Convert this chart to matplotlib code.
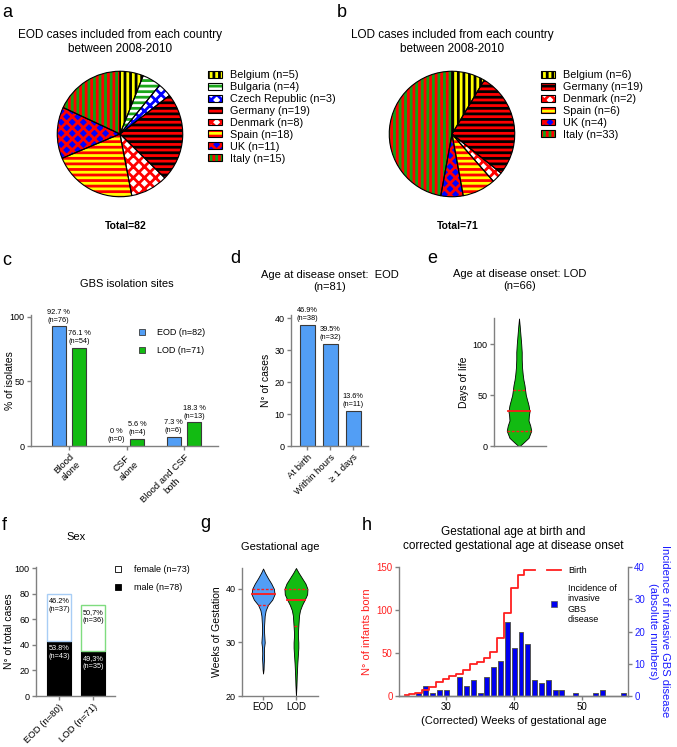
import numpy as np
import matplotlib.pyplot as plt
from matplotlib.patches import Patch
from matplotlib.lines import Line2D

plt.rcParams['font.family'] = ['Liberation Sans', 'DejaVu Sans']
plt.rcParams['hatch.linewidth'] = 2.0

W, H = 677, 747

# ---------------- data ----------------
eod_countries = ['Belgium', 'Bulgaria', 'Czech Republic', 'Germany', 'Denmark', 'Spain', 'UK', 'Italy']
eod_counts = [5, 4, 3, 19, 8, 18, 11, 15]
lod_countries = ['Belgium', 'Germany', 'Denmark', 'Spain', 'UK', 'Italy']
lod_counts = [6, 19, 2, 6, 4, 33]

sites = ['Blood\nalone', 'CSF\nalone', 'Blood and CSF\nboth']
sites_eod = [92.7, 0, 7.3]
sites_lod = [76.1, 5.6, 18.3]
sites_eod_n = [76, 0, 6]
sites_lod_n = [54, 4, 13]

onset = ['At birth', 'Within hours', '≥ 1 days']
onset_n = [38, 32, 11]
onset_pct = ['46.9%', '39.5%', '13.6%']

# LOD age at onset, violin outline (days, relative width)
lod_days = [0, 3, 8, 15, 20, 25, 30, 34, 40, 45, 50, 55, 60, 65, 70, 77, 85, 92, 100, 110, 118, 125]
lod_days_dens = [2, 12, 28, 36, 33, 28, 29, 31, 28, 24, 20, 18, 16, 13, 11, 9, 8, 8, 6.5, 4, 2, 0]
lod_days_stats = [34, 15, 55]  # median, q1, q3

sex_groups = ['EOD (n=80)', 'LOD (n=71)']
male_n = [43, 35]
female_n = [37, 36]
male_lbl = ['53.8%', '49,3%']
female_lbl = ['46.2%', '50,7%']

eod_weeks = [24.2, 25, 26, 27, 28, 29, 30, 31, 32, 33, 34, 35, 36, 37, 38, 39, 40, 41, 42, 43, 43.8]
eod_weeks_dens = [0, 1.5, 2, 3, 2.5, 3, 5, 4, 3, 3, 4, 5, 8, 15, 28, 35, 33, 25, 15, 6, 0]
eod_weeks_stats = [39, 37, 40]
lod_weeks = [20, 22, 24, 26, 28, 29, 30, 31, 32, 33, 34, 35, 36, 37, 38, 39, 40, 41, 42, 43, 43.9]
lod_weeks_dens = [0, 1.5, 2.5, 4, 6, 7, 7, 6, 6, 7, 8, 9, 12, 18, 26, 33, 34, 28, 18, 8, 0]
lod_weeks_stats = [38, 33, 40]

weeks = list(range(24, 57))
incidence = [0, 0, 1, 3, 1, 2, 2, 0, 6, 3, 5, 1, 6, 9, 11, 23, 15, 20, 16, 5, 4, 5,
             2, 2, 0, 1, 0, 0, 1, 2, 0, 0, 1]
birth_weeks = list(range(24, 44))
births = [1, 2, 4, 7, 11, 16, 20, 23, 26, 30, 37, 40, 44, 51, 67, 96, 126, 141, 146, 147]

BLUE = '#529ef5'
GREEN = '#12bb12'
EDGE = '#3a3a3a'
AX = '#808080'

country_style = {
    'Belgium': ('#ffff00', 'black', '|||'),
    'Bulgaria': ('white', '#1aa61a', '---'),
    'Czech Republic': ('white', '#0000ff', 'xxx'),
    'Germany': ('#ff0000', 'black', '---'),
    'Denmark': ('white', '#ff0000', 'xxx'),
    'Spain': ('#ffff00', '#ff0000', '---'),
    'UK': ('#0000ff', '#ff0000', 'xxx'),
    'Italy': ('#13a013', '#ff0000', '|||'),
}

fig = plt.figure(figsize=(W / 100, H / 100), dpi=100)


def fax(x0, y0, x1, y1):
    return fig.add_axes([x0 / W, 1 - y1 / H, (x1 - x0) / W, (y1 - y0) / H])


def ftext(x, y, s, **kw):
    fig.text(x / W, 1 - y / H, s, **kw)


def style(ax, size=6.5):
    for s in ['top', 'right']:
        ax.spines[s].set_visible(False)
    for s in ['left', 'bottom']:
        ax.spines[s].set_color(AX)
        ax.spines[s].set_linewidth(1.0)
    ax.tick_params(color=AX, length=3, width=1, labelsize=size, pad=1.5)


def pie_panel(x0, names, counts, legx, title, total):
    ax = fax(x0, 70, x0 + 128, 198)
    styles = [country_style[n] for n in names]
    wedges, _ = ax.pie(counts, startangle=90, counterclock=False, radius=1,
                       colors=[s[0] for s in styles], wedgeprops=dict(linewidth=0))
    for w, s in zip(wedges, styles):
        w.set_edgecolor(s[1])
        w.set_hatch(s[2])
    ax.pie(counts, startangle=90, counterclock=False, radius=1,
           wedgeprops=dict(fill=False, edgecolor='black', linewidth=0.8))
    ax.set_xlim(-1.02, 1.02)
    ax.set_ylim(-1.02, 1.02)
    handles = [(Patch(facecolor=s[0], edgecolor=s[1], hatch=s[2], lw=0),
                Patch(fill=False, edgecolor='black', lw=0.8)) for s in styles]
    labels = [f'{n} (n={c})' for n, c in zip(names, counts)]
    fig.legend(handles, labels, loc='upper left', bbox_to_anchor=(legx / W, 1 - 70 / H),
               frameon=False, fontsize=7.8, handlelength=1.25, handleheight=0.6,
               handletextpad=0.8, labelspacing=0.18, borderpad=0, borderaxespad=0)
    ftext(x0 + 64, 42, title, ha='center', va='center', fontsize=8.5, linespacing=1.25)
    ftext(x0 + 70, 226, total, ha='center', va='center', fontsize=7.5, weight='bold')


# ---------------- a / b : pies ----------------
pie_panel(56, eod_countries, eod_counts, 208,
          'EOD cases included from each country\nbetween 2008-2010', 'Total=82')
pie_panel(388, lod_countries, lod_counts, 541,
          'LOD cases included from each country\nbetween 2008-2010', 'Total=71')
ftext(2, 17, 'a', fontsize=13)
ftext(337, 17, 'b', fontsize=13)

# ---------------- c : isolation sites ----------------
ax = fax(31, 315, 218, 446)
style(ax)
x = np.arange(len(sites))
ax.bar(x - 0.18, sites_eod, 0.245, color=BLUE, edgecolor=EDGE, lw=0.8)
ax.bar(x + 0.18, sites_lod, 0.245, color=GREEN, edgecolor=EDGE, lw=0.8)
for xi, v, n in zip(x - 0.18, sites_eod, sites_eod_n):
    ax.annotate(f'{v:g} %\n(n={n})', (xi, v), xytext=(0, 2), textcoords='offset points',
                ha='center', va='bottom', fontsize=5.3, linespacing=1.15)
for xi, v, n in zip(x + 0.18, sites_lod, sites_lod_n):
    ax.annotate(f'{v:g} %\n(n={n})', (xi, v), xytext=(0, 2), textcoords='offset points',
                ha='center', va='bottom', fontsize=5.3, linespacing=1.15)
ax.set_xlim(-0.66, 2.59)
ax.set_ylim(0, 101.5)
ax.set_yticks([0, 50, 100])
ax.set_xticks(x)
ax.set_xticklabels(sites, rotation=45, ha='right', rotation_mode='anchor',
                   multialignment='center', fontsize=6.8)
ax.set_ylabel('% of isolates', fontsize=7.5)
ax.yaxis.set_label_coords(-0.088, 0.5)
leg_h = [Line2D([], [], ls='none', marker='s', ms=4.5, mfc=BLUE, mec=EDGE, mew=0.6),
         Line2D([], [], ls='none', marker='s', ms=4.5, mfc=GREEN, mec=EDGE, mew=0.6)]
fig.legend(leg_h, ['EOD (n=82)', 'LOD (n=71)'], loc='upper left',
           bbox_to_anchor=(137 / W, 1 - 328 / H), frameon=False, fontsize=6.5,
           handlelength=1.0, handletextpad=1.2, labelspacing=1.0, borderpad=0, borderaxespad=0)
ftext(2, 265, 'c', fontsize=13)
ftext(127, 284, 'GBS isolation sites', ha='center', va='center', fontsize=8)

# ---------------- d : age at onset EOD ----------------
ax = fax(291, 315, 368, 446)
style(ax)
x = np.arange(len(onset))
ax.bar(x, onset_n, 0.65, color=BLUE, edgecolor=EDGE, lw=0.8)
for xi, v, p in zip(x, onset_n, onset_pct):
    ax.annotate(f'{p}\n(n={v})', (xi, v), xytext=(0, 2), textcoords='offset points',
                ha='center', va='bottom', fontsize=5.3, linespacing=1.15)
ax.set_xlim(-0.7, 2.65)
ax.set_ylim(0, 41)
ax.set_yticks([0, 10, 20, 30, 40])
ax.set_xticks(x)
ax.set_xticklabels(onset, rotation=45, ha='right', rotation_mode='anchor', fontsize=6.8)
ax.set_ylabel('N° of cases', fontsize=7.5, labelpad=3)
ftext(230, 263, 'd', fontsize=13)
ftext(330, 281, 'Age at disease onset:  EOD\n(n=81)', ha='center', va='center',
      fontsize=8, linespacing=1.2)


# ---------------- violins ----------------
def violin(ax, pos, levels, dens, maxw, fc, stats):
    levels = np.array(levels, float)
    hw = np.array(dens, float) / max(dens) * maxw
    ax.fill_betweenx(levels, pos - hw, pos + hw, facecolor=fc, edgecolor='black', lw=0.6)
    for val, ls in zip(stats, ['-', (0, (2, 1.2)), (0, (2, 1.2))]):
        w = np.interp(val, levels, hw)
        ax.plot([pos - w, pos + w], [val, val], color='#ff1a1a', ls=ls,
                lw=1.3 if ls == '-' else 1.0)


# ---------------- e : age at onset LOD ----------------
ax = fax(494, 318, 546, 446)
style(ax)
violin(ax, 0, lod_days, lod_days_dens, 0.245, GREEN, lod_days_stats)
ax.set_xlim(-0.5, 0.54)
ax.set_ylim(0, 125.5)
ax.set_yticks([0, 50, 100])
ax.set_xticks([])
ax.set_ylabel('Days of life', fontsize=7.5, labelpad=3)
ftext(427, 263, 'e', fontsize=13)
ftext(520, 280, 'Age at disease onset: LOD\n(n=66)', ha='center', va='center',
      fontsize=8, linespacing=1.2)

# ---------------- f : sex ----------------
ax = fax(36, 567, 115, 696)
style(ax)
x = np.arange(len(sex_groups))
ax.bar(x, male_n, 0.7, color='black', edgecolor='black', lw=0.8)
ax.bar(x, female_n, 0.7, bottom=male_n, color='white', edgecolor=['#a8cdf5', '#7fdc7f'], lw=1.0)
for xi, m, f, ml, fl in zip(x, male_n, female_n, male_lbl, female_lbl):
    ax.annotate(f'{fl}\n(n={f})', (xi, m + f), xytext=(0, -3), textcoords='offset points',
                ha='center', va='top', fontsize=5.3, linespacing=1.15)
    ax.annotate(f'{ml}\n(n={m})', (xi, m), xytext=(0, -3), textcoords='offset points',
                ha='center', va='top', fontsize=5.3, linespacing=1.15, color='white')
ax.set_xlim(-0.68, 1.65)
ax.set_ylim(0, 101)
ax.set_yticks([0, 20, 40, 60, 80, 100])
ax.set_xticks(x)
ax.set_xticklabels(sex_groups, rotation=45, ha='right', rotation_mode='anchor', fontsize=6.8)
ax.set_ylabel('N° of total cases', fontsize=7.5)
ax.yaxis.set_label_coords(-0.28, 0.5)
leg_h = [Line2D([], [], ls='none', marker='s', ms=4.5, mfc='white', mec='black', mew=0.6),
         Line2D([], [], ls='none', marker='s', ms=4.5, mfc='black', mec='black', mew=0.6)]
fig.legend(leg_h, ['female (n=73)', 'male (n=78)'], loc='upper left',
           bbox_to_anchor=(113 / W, 1 - 565 / H), frameon=False, fontsize=6.5,
           handlelength=1.0, handletextpad=1.3, labelspacing=1.0, borderpad=0, borderaxespad=0)
ftext(2, 530, 'f', fontsize=13)
ftext(76, 537, 'Sex', ha='center', va='center', fontsize=8)

# ---------------- g : gestational age ----------------
ax = fax(242, 568, 318, 696)
style(ax)
violin(ax, 0, eod_weeks, eod_weeks_dens, 0.35, BLUE, eod_weeks_stats)
violin(ax, 1, lod_weeks, lod_weeks_dens, 0.35, GREEN, lod_weeks_stats)
ax.set_xlim(-0.64, 1.67)
ax.set_ylim(20, 43.9)
ax.set_yticks([20, 30, 40])
ax.set_xticks([0, 1])
ax.set_xticklabels(['EOD', 'LOD'], fontsize=7)
ax.set_ylabel('Weeks of Gestation', fontsize=7.5, labelpad=3)
ftext(200, 528, 'g', fontsize=13)
ftext(280, 547, 'Gestational age', ha='center', va='center', fontsize=8)

# ---------------- h : birth vs incidence ----------------
ax = fax(399, 567, 628, 696)
ax2 = ax.twinx()
ax.set_zorder(ax2.get_zorder() + 1)
ax.patch.set_visible(False)
ax2.bar(weeks, incidence, 0.73, color='#0000f0', edgecolor='#555555', lw=0.7)
ax.step(birth_weeks, births, where='mid', color='#ff2020', lw=1.3)
for a in (ax, ax2):
    a.spines['top'].set_visible(False)
    for s in ['left', 'right', 'bottom']:
        a.spines[s].set_color(AX)
        a.spines[s].set_linewidth(1.0)
ax.spines['right'].set_visible(False)
ax2.spines['left'].set_visible(False)
ax.tick_params(axis='y', colors='#ff2020', color=AX, length=3, width=1, labelsize=7, pad=1.5)
ax.tick_params(axis='x', color=AX, length=3, width=1, labelsize=7, pad=1.5)
ax2.tick_params(axis='y', colors='#1a1aff', color=AX, length=3, width=1, labelsize=7, pad=1.5)
ax.set_xlim(23.1, 56.7)
ax.set_ylim(0, 150)
ax2.set_ylim(0, 40)
ax.set_yticks([0, 50, 100, 150])
ax2.set_yticks([0, 10, 20, 30, 40])
ax.set_xticks([30, 40, 50])
ax.set_ylabel('N° of infants born', color='#ff2020', fontsize=8, labelpad=3)
ax2.set_ylabel('Incidence of invasive GBS disease\n(absolute numbers)', color='#1a1aff',
               fontsize=8, rotation=270, labelpad=18, linespacing=1.2)
ax.set_xlabel('(Corrected) Weeks of gestational age', fontsize=8, labelpad=3)
leg_h = [Line2D([], [], color='#ff2020', lw=1.3),
         Line2D([], [], ls='none', marker='s', ms=4.5, mfc='#0000f0', mec='#555555', mew=0.5)]
fig.legend(leg_h, ['Birth', 'Incidence of\ninvasive\nGBS\ndisease'], loc='upper left',
           bbox_to_anchor=(547 / W, 1 - 566 / H), frameon=False, fontsize=6.5,
           handlelength=1.6, handletextpad=0.7, labelspacing=1.0, borderpad=0, borderaxespad=0)
ftext(362, 530, 'h', fontsize=13)
ftext(513, 539, 'Gestational age at birth and\ncorrected gestational age at disease onset',
      ha='center', va='center', fontsize=8.5, linespacing=1.2)

fig.savefig('out.png', dpi=100)
